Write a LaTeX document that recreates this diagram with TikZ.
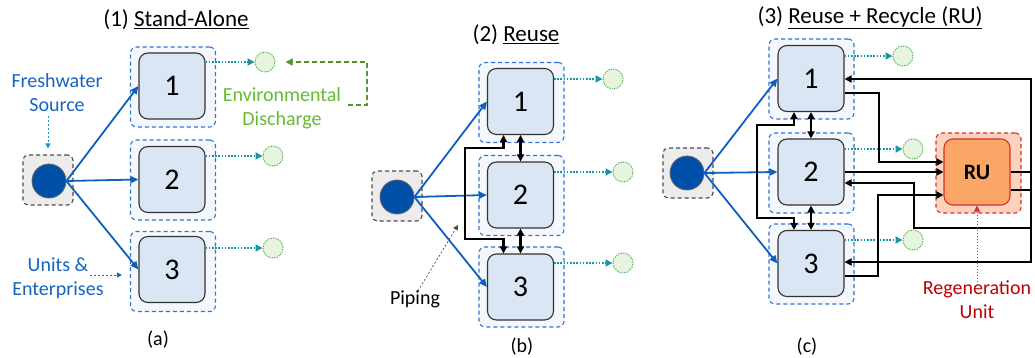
\documentclass[tikz,border=0pt]{standalone}
\usepackage{fontspec}
\setmainfont{Carlito}
\usetikzlibrary{arrows.meta}
\definecolor{boxblue}{RGB}{218,230,243}
\definecolor{outerfill}{RGB}{244,248,252}
\definecolor{dashblue}{RGB}{46,117,214}
\definecolor{arrowblue}{RGB}{15,95,190}
\definecolor{srcblue}{RGB}{0,80,170}
\definecolor{greyfill}{RGB}{236,236,236}
\definecolor{tealc}{RGB}{26,150,160}
\definecolor{disgreen}{RGB}{73,176,74}
\definecolor{disfill}{RGB}{230,244,224}
\definecolor{greenlab}{RGB}{102,187,51}
\definecolor{labblue}{RGB}{21,101,192}
\definecolor{rufill}{RGB}{250,166,102}
\definecolor{ruborder}{RGB}{217,48,42}
\definecolor{ruouter}{RGB}{251,210,190}
\definecolor{redtext}{RGB}{192,0,0}
\tikzset{
  unit/.style={draw=black!80, fill=boxblue, rounded corners=9pt, minimum width=66pt, minimum height=66pt, line width=1.1pt, inner sep=0pt, font=\fontsize{30}{30}\selectfont},
  outerbox/.style={draw=dashblue, dash pattern=on 4pt off 3pt, fill=outerfill, rounded corners=6pt, minimum width=85pt, minimum height=80pt, line width=1.1pt},
  srcbox/.style={draw=black!70, dash pattern=on 4pt off 3pt, fill=greyfill, rounded corners=5pt, minimum width=50pt, minimum height=50pt, line width=1.1pt},
  src/.style={circle, fill=srcblue, draw=black!60, line width=0.8pt, minimum size=34pt, inner sep=0pt},
  dis/.style={circle, draw=disgreen, dash pattern=on 1.2pt off 1.2pt, line width=1pt, fill=disfill, minimum size=20pt, inner sep=0pt},
  bluearrow/.style={draw=arrowblue, line width=1.8pt, -{Triangle[length=8pt,width=7pt]}},
  tealarrow/.style={draw=tealc, line width=2pt, dash pattern=on 1.6pt off 1.6pt, -{Triangle[length=7pt,width=7pt]}},
  pipe/.style={draw=black, line width=2.2pt},
  tipA/.style={-{Triangle[length=7pt,width=7pt]}},
  tipAB/.style={{Triangle[length=7pt,width=7pt]}-{Triangle[length=7pt,width=7pt]}},
  lab/.style={font=\fontsize{20}{24}\selectfont, align=center},
  ttl/.style={font=\fontsize{23}{27}\selectfont},
  thinarrow/.style={line width=0.8pt, dash pattern=on 2pt off 2pt, -{Triangle[length=5pt,width=5pt]}}
}
\begin{document}
\begin{tikzpicture}[x=1pt,y=-1pt]
\useasboundingbox[fill=white] (0,0) rectangle (1035,358);

% ---------------- Panel (a)
\node[ttl] (ta) at (176,20) {(1) \underline{Stand-Alone}};
\node[outerbox] (ao1) at (173,87) {};
\node[outerbox] (ao2) at (173,180) {};
\node[outerbox] (ao3) at (173,271.5) {};
\node[unit] (a1) at (172,86) {1};
\node[unit] (a2) at (172,179.5) {2};
\node[unit] (a3) at (172,269.5) {3};
\node[srcbox] (asb) at (48,180) {};
\node[src] (as) at (49,181) {};
\node[dis] (ad1) at (265,62) {};
\node[dis] (ad2) at (273,156) {};
\node[dis] (ad3) at (273,248) {};
\draw[tealarrow] (a1.east |- ad1) -- (ad1);
\draw[tealarrow] (a2.east |- ad2) -- (ad2);
\draw[tealarrow] (a3.east |- ad3) -- (ad3);
\draw[bluearrow] (as.east) -- (a1.west);
\draw[bluearrow] (as.east) -- (a2.west);
\draw[bluearrow] (as.east) -- (a3.west);
\node[lab, text=labblue] (fw) at (57,93) {Freshwater\\Source};
\draw[thinarrow, draw=labblue!70!cyan, shorten >=6pt] (asb.north |- fw.south) -- (asb.north);
\node[lab, text=labblue] (ue) at (58,278) {Units \&\\Enterprises};
\coordinate (uea) at (90,275);
\draw[thinarrow, draw=labblue, shorten >=8pt] (uea) -- (ao3.west |- uea);
\node[lab, text=greenlab] (env) at (282,108) {Environmental\\Discharge};
\coordinate (gs) at (348,105);
\coordinate (gc) at (367,62);
\draw[draw=greenlab!80!black, line width=1.6pt, dash pattern=on 5pt off 3pt, -{Triangle[length=7pt,width=7pt]}, shorten >=10pt] (gs) -| (gc) -- (ad1.east);
\node[lab] (la) at (158,340) {(a)};

% ---------------- Panel (b)
\node[ttl] (tb) at (516,35) {(2) \underline{Reuse}};
\node[outerbox] (bo1) at (521.5,102.5) {};
\node[outerbox] (bo2) at (521.5,195.5) {};
\node[outerbox] (bo3) at (521.5,287) {};
\node[unit] (b1) at (520.5,101.5) {1};
\node[unit] (b2) at (520.5,195) {2};
\node[unit] (b3) at (520.5,287) {3};
\node[srcbox] (bsb) at (397,196) {};
\node[src] (bs) at (397,197) {};
\node[dis] (bd1) at (613,79) {};
\node[dis] (bd2) at (623,172) {};
\node[dis] (bd3) at (623,263) {};
\draw[tealarrow] (b1.east |- bd1) -- (bd1);
\draw[tealarrow] (b2.east |- bd2) -- (bd2);
\draw[tealarrow] (b3.east |- bd3) -- (bd3);
\draw[bluearrow] (bs.east) -- (b1.west);
\draw[bluearrow] (bs.east) -- (b2.west);
\draw[bluearrow] (bs.east) -- (b3.west);
\draw[pipe, tipAB] (b1.south) -- (b2.north);
\draw[pipe, tipAB] (b2.south) -- (b3.north);
\coordinate (bp1) at (465,148);
\coordinate (bp2) at (465,239);
\draw[pipe, tipAB] ([xshift=-17pt]b1.south) |- (bp1) -- (bp2) -| ([xshift=-17pt]b3.north);
\node[lab] (pip) at (415,299) {Piping};
\coordinate (pa) at (458,225);
\draw[line width=0.7pt, dash pattern=on 2pt off 2pt, draw=black!70, -{Triangle[length=5pt,width=5pt]}] ([xshift=3pt,yshift=-4pt]pip.north) -- (pa);
\node[lab] (lb) at (522,347) {(b)};

% ---------------- Panel (c)
\node[ttl] (tc) at (870,18) {(3) \underline{Reuse + Recycle (RU)}};
\node[outerbox] (co1) at (811.5,79) {};
\node[outerbox] (co2) at (811.5,173) {};
\node[outerbox] (co3) at (811.5,264) {};
\node[unit] (c1) at (811,78.5) {1};
\node[unit] (c2) at (811,172) {2};
\node[unit] (c3) at (811,263.5) {3};
\node[srcbox] (csb) at (688,173) {};
\node[src] (cs) at (687,173) {};
\node[dis] (cd1) at (903,56) {};
\node[dis] (cd2) at (913,149) {};
\node[dis] (cd3) at (913,240) {};
\draw[tealarrow] (c1.east |- cd1) -- (cd1);
\draw[tealarrow] (c2.east |- cd2) -- (cd2);
\draw[tealarrow] (c3.east |- cd3) -- (cd3);
\node[outerbox, draw=ruborder, fill=ruouter] (ruo) at (978.5,173) {};
\node[unit, draw=ruborder, fill=rufill, font=\fontsize{22}{22}\selectfont\bfseries] (ru) at (977,172) {RU};
\draw[bluearrow] (cs.east) -- (c1.west);
\draw[bluearrow] (cs.east) -- (c2.west);
\draw[bluearrow] (cs.east) -- (c3.west);
\draw[pipe, tipAB] (c1.south) -- (c2.north);
\draw[pipe, tipAB] (c2.south) -- (c3.north);
\coordinate (cp1) at (757,125);
\coordinate (cp2) at (757,218);
\draw[pipe, tipAB] ([xshift=-17pt]c1.south) |- (cp1) -- (cp2) -| ([xshift=-17pt]c3.north);
% to RU
\coordinate (k1) at (879,162);
\coordinate (k3) at (878,195);
\draw[pipe, tipA] ([yshift=-14.5pt]c1.east) -| (k1) -- (ru.west |- k1);
\draw[pipe, tipA] (c2.east) -- (ru.west);
\draw[pipe, tipA] ([yshift=-12.5pt]c3.east) -| (k3) -- (ru.west |- k3);
% from RU
\coordinate (r1) at (1031,79);
\coordinate (r2) at (1031,262);
\coordinate (r3) at (1031,228);
\coordinate (k2) at (914,183);
\draw[pipe] (ru.east) -- (ru.east -| r1);
\draw[pipe] ([yshift=-18pt]ru.east) -- ([yshift=-18pt]ru.east -| r1);
\draw[pipe] ([yshift=1.1pt]r1) -- ([yshift=-1.1pt]r2);
\draw[pipe, tipA] (r1) -- (r1 -| c1.east);
\draw[pipe, tipA] (r2) -- (r2 -| c3.east);
\draw[pipe, tipA] (r3) -| (k2) -- (c2.east |- k2);
\node[lab, text=redtext] (rg) at (977,300) {Regeneration\\Unit};
\draw[line width=0.8pt, draw=redtext!80, dash pattern=on 1.5pt off 1.5pt, -{Triangle[length=6pt,width=6pt]}] ([yshift=-8pt]rg.north) -- (ru.south);
\node[lab] (lc) at (807,347) {(c)};
\end{tikzpicture}
\end{document}
